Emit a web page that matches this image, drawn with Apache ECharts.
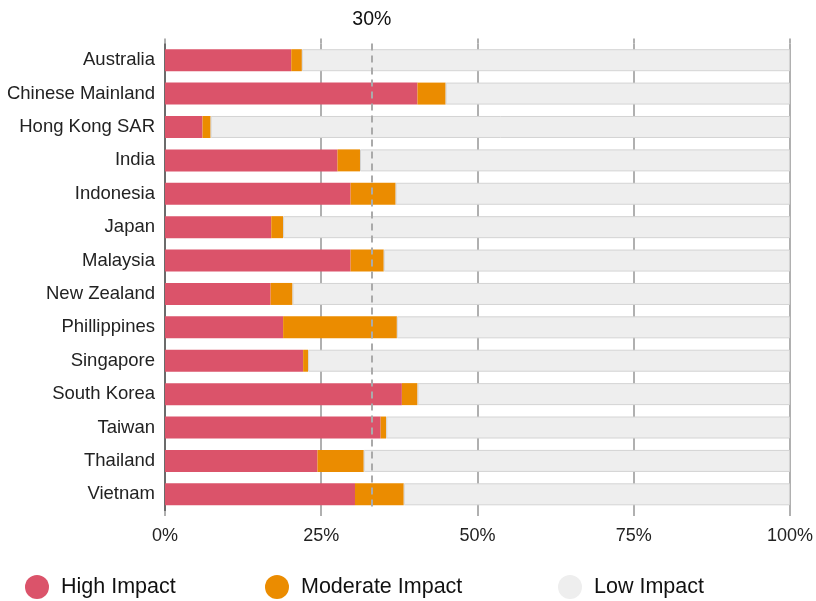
<!DOCTYPE html>
<html><head><meta charset="utf-8">
<script src="https://cdn.jsdelivr.net/npm/echarts@6/dist/echarts.min.js"></script>
<style>html,body{margin:0;padding:0;background:#fff}#c{width:816px;height:601px}</style>
</head><body><div id="c"></div>
<script>
const categories = ["Australia","Chinese Mainland","Hong Kong SAR","India","Indonesia","Japan","Malaysia","New Zealand","Phillippines","Singapore","South Korea","Taiwan","Thailand","Vietnam"];
const highImpact = [20.2, 40.4, 6.0, 27.6, 29.7, 17.0, 29.7, 16.9, 18.9, 22.1, 37.9, 34.5, 24.4, 30.4];
const moderateImpact = [1.7, 4.5, 1.3, 3.6, 7.2, 1.9, 5.3, 3.5, 18.2, 0.8, 2.5, 0.9, 7.4, 7.8];
const lowImpact = [78.1, 55.1, 92.7, 68.8, 63.1, 81.1, 65.0, 79.6, 62.9, 77.1, 59.6, 64.6, 68.2, 61.8];
const xTicks = [0, 25, 50, 75, 100];
const referenceValue = 33.1;
const referenceLabel = "30%";
const seriesNames = ["High Impact","Moderate Impact","Low Impact"];
const colors = ["#DB536A","#EB8C00","#EEEEEE"];

const font = "Liberation Sans, Arial, sans-serif";
const chart = echarts.init(document.getElementById('c'));
const legendLefts = [25, 265, 558];
chart.setOption({
  animation: false,
  textStyle: {fontFamily: font},
  grid: {left: 165, right: 22, top: 43.5, bottom: 90, containLabel: false},
  legend: seriesNames.map((n, i) => ({
    data: [n], left: legendLefts[i], top: 575, padding: 0, icon: 'circle', itemWidth: 24, itemHeight: 24,
    itemGap: 0, selectedMode: false,
    itemStyle: {borderWidth: 0},
    textStyle: {fontSize: 21.5, color: '#111', fontFamily: font, padding: [0, 0, 0, 7]}
  })),
  xAxis: [{
    type: 'value', min: 0, max: 100, interval: 25, position: 'bottom',
    axisLabel: {formatter: v => xTicks.includes(v) ? v + '%' : '', fontSize: 18, color: '#222', margin: 16},
    axisLine: {show: false},
    axisTick: {show: true, length: 5, lineStyle: {color: '#b0b0b0', width: 2}},
    splitLine: {show: true, lineStyle: {color: '#b0b0b0', width: 2}}
  }, {
    type: 'value', min: 0, max: 100, interval: 25, position: 'top',
    axisLabel: {show: false}, axisLine: {show: false},
    axisTick: {show: true, length: 5, lineStyle: {color: '#b0b0b0', width: 2}},
    splitLine: {show: false}
  }],
  yAxis: {
    type: 'category', data: categories, inverse: true,
    axisLabel: {fontSize: 18.5, color: '#222', margin: 10},
    axisLine: {show: true, lineStyle: {color: '#555', width: 1.5}},
    axisTick: {show: false}
  },
  series: [
    {name: seriesNames[0], type: 'bar', stack: 's', data: highImpact, barWidth: 22,
     itemStyle: {color: colors[0]},
     markLine: {silent: true, symbol: 'none',
       lineStyle: {type: [7, 5], color: '#aaaaaa', width: 2},
       label: {show: true, position: 'start', formatter: referenceLabel, fontSize: 19.5, color: '#111', distance: 14},
       data: [{xAxis: referenceValue}]}},
    {name: seriesNames[1], type: 'bar', stack: 's', data: moderateImpact, barWidth: 22,
     itemStyle: {color: colors[1]}},
    {name: seriesNames[2], type: 'bar', stack: 's', data: lowImpact, barWidth: 22,
     itemStyle: {color: colors[2], borderColor: '#d4d4d4', borderWidth: 1}}
  ]
});
</script></body></html>
